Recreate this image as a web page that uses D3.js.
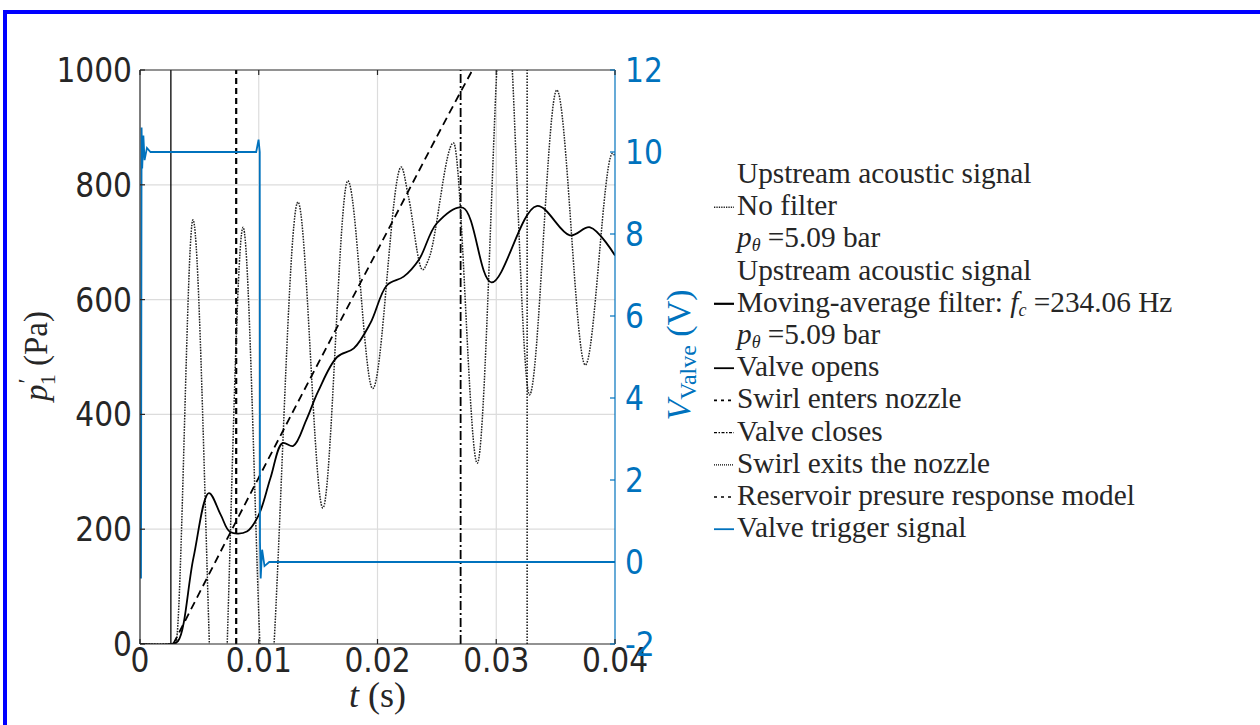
<!DOCTYPE html>
<html>
<head>
<meta charset="utf-8">
<script src="https://cdn.jsdelivr.net/npm/d3@7"></script>
<style>
	html, body { margin: 0; padding: 0; background: #fff; }
	svg { display: block; }
	.tick-sans { font-family: "DejaVu Sans Condensed", "Liberation Sans", sans-serif; }
	.serif { font-family: "Liberation Serif", "DejaVu Serif", serif; }
</style>
</head>
<body>
<svg id="chart" width="1260" height="725"></svg>
<script>
// Raw signal (no filter), read at peaks and troughs
const noFilterT = [0, 0.0030, 0.00446, 0.0066, 0.00868, 0.0106, 0.0133, 0.0154, 0.0175, 0.0196, 0.0220, 0.0226, 0.0238, 0.0243, 0.0264, 0.0284, 0.0307, 0.0328, 0.0351, 0.0375, 0.0398, 0.0400];
const noFilterP = [0, 0, 739, -300, 726, -150, 770, 237, 807, 445, 831, 780, 652, 670, 873, 315, 1170, 434, 965, 486, 855, 850];

// Moving-average filtered signal
const movAvgT = [0, 0.0026, 0.0032, 0.0045, 0.0058, 0.0068, 0.0076, 0.0090, 0.0100, 0.0110, 0.0120, 0.0129, 0.0140, 0.0150, 0.0166, 0.0180, 0.0194, 0.0208, 0.0222, 0.0235, 0.0250, 0.0272, 0.0296, 0.0334, 0.0362, 0.0379, 0.0400];
const movAvgP = [0, 0, 5, 150, 263, 225, 195, 196, 225, 290, 350, 345, 390, 440, 500, 515, 559, 625, 640, 670, 733, 760, 630, 763, 712, 726, 677];

// Reservoir pressure response model
const modelT = [0.0028, 0.0100, 0.0200, 0.0280, 0.0300];
const modelP = [0, 290, 686, 1000, 1075];

// Valve trigger signal (V)
const valveT = [0, 0.00005, 0.0001, 0.0002, 0.0003, 0.0005, 0.0008, 0.0097, 0.0099, 0.0100, 0.01002, 0.01008, 0.0102, 0.0104, 0.0108, 0.0400];
const valveV = [-0.4, 10.6, 9.6, 10.4, 9.8, 10.1, 10.0, 10.0, 10.3, 10.0, 0.5, -0.4, 0.3, -0.1, 0, 0];

// Event times (s)
const eventNames = ["Valve opens", "Swirl enters nozzle", "Valve closes", "Swirl exits the nozzle"];
const eventT = [0.0026, 0.0081, 0.0270, 0.0326];
const eventDash = [null, "6,4", "9,3,2,3", "1.5,1.5"];
const eventWidth = [1.3, 2.2, 1.8, 1.4];

const xTicks = [0, 0.01, 0.02, 0.03, 0.04];
const xTickLabels = ["0", "0.01", "0.02", "0.03", "0.04"];
const yTicks = [0, 200, 400, 600, 800, 1000];
const yRTicks = [-2, 0, 2, 4, 6, 8, 10, 12];

const blue = "#0072BD";
const dark = "#262626";

const svg = d3.select("#chart");

// outer blue frame
svg.append("rect")
	.attr("x", 5).attr("y", 12)
	.attr("width", 1260).attr("height", 730)
	.attr("fill", "none")
	.attr("stroke", "#0000ff")
	.attr("stroke-width", 4);

const pL = 140, pR = 615, pT = 70, pB = 644;

const x = d3.scaleLinear().domain([0, 0.04]).range([pL, pR]);
const yL = d3.scaleLinear().domain([0, 1000]).range([pB, pT]);
const yR = d3.scaleLinear().domain([-2, 12]).range([pB, pT]);

svg.append("clipPath").attr("id", "plot-clip")
	.append("rect")
	.attr("x", pL).attr("y", pT)
	.attr("width", pR - pL).attr("height", pB - pT);

// grid
const grid = svg.append("g").attr("stroke", "#dcdcdc").attr("stroke-width", 1.2);
xTicks.slice(1, -1).forEach(t => {
	grid.append("line").attr("x1", x(t)).attr("x2", x(t)).attr("y1", pT).attr("y2", pB);
});
yTicks.slice(1, -1).forEach(v => {
	grid.append("line").attr("x1", pL).attr("x2", pR).attr("y1", yL(v)).attr("y2", yL(v));
});

const plot = svg.append("g").attr("clip-path", "url(#plot-clip)");

// event lines
eventT.forEach((t, i) => {
	plot.append("line")
		.attr("x1", x(t)).attr("x2", x(t))
		.attr("y1", yL(0)).attr("y2", yL(1000))
		.attr("stroke", "#000")
		.attr("stroke-width", eventWidth[i])
		.attr("stroke-dasharray", eventDash[i]);
});

plot.append("path")
	.datum(d3.zip(noFilterT, noFilterP))
	.attr("d", d3.line().x(d => x(d[0])).y(d => yL(d[1])).curve(d3.curveMonotoneX))
	.attr("fill", "none")
	.attr("stroke", "#222")
	.attr("stroke-width", 1.5)
	.attr("stroke-dasharray", "1.6,1.2");

plot.append("path")
	.datum(d3.zip(modelT, modelP))
	.attr("d", d3.line().x(d => x(d[0])).y(d => yL(d[1])).curve(d3.curveMonotoneX))
	.attr("fill", "none")
	.attr("stroke", "#000")
	.attr("stroke-width", 1.8)
	.attr("stroke-dasharray", "8,5");

plot.append("path")
	.datum(d3.zip(movAvgT, movAvgP))
	.attr("d", d3.line().x(d => x(d[0])).y(d => yL(d[1])).curve(d3.curveCatmullRom))
	.attr("fill", "none")
	.attr("stroke", "#000")
	.attr("stroke-width", 1.8);

plot.append("path")
	.datum(d3.zip(valveT, valveV))
	.attr("d", d3.line().x(d => x(d[0]) + 1).y(d => yR(d[1])))
	.attr("fill", "none")
	.attr("stroke", blue)
	.attr("stroke-width", 1.8);

// axes box
const box = svg.append("g").attr("stroke-width", 1.2);
box.append("line").attr("x1", pL).attr("x2", pR).attr("y1", pB).attr("y2", pB).attr("stroke", dark);
box.append("line").attr("x1", pL).attr("x2", pR).attr("y1", pT).attr("y2", pT).attr("stroke", dark);
box.append("line").attr("x1", pL).attr("x2", pL).attr("y1", pT).attr("y2", pB).attr("stroke", dark);
box.append("line").attr("x1", pR).attr("x2", pR).attr("y1", pT).attr("y2", pB).attr("stroke", blue);

const tickLen = 5;
xTicks.forEach(t => {
	box.append("line").attr("x1", x(t)).attr("x2", x(t)).attr("y1", pB).attr("y2", pB - tickLen).attr("stroke", dark);
	box.append("line").attr("x1", x(t)).attr("x2", x(t)).attr("y1", pT).attr("y2", pT + tickLen).attr("stroke", dark);
});
yTicks.forEach(v => {
	box.append("line").attr("x1", pL).attr("x2", pL + tickLen).attr("y1", yL(v)).attr("y2", yL(v)).attr("stroke", dark);
});
yRTicks.forEach(v => {
	box.append("line").attr("x1", pR).attr("x2", pR - tickLen).attr("y1", yR(v)).attr("y2", yR(v)).attr("stroke", blue);
});

// tick labels
const fs = 33;
xTicks.forEach((t, i) => {
	svg.append("text").attr("class", "tick-sans")
		.attr("x", x(t)).attr("y", 672)
		.attr("text-anchor", "middle")
		.attr("font-size", fs).attr("fill", dark)
		.text(xTickLabels[i]);
});
yTicks.forEach(v => {
	svg.append("text").attr("class", "tick-sans")
		.attr("x", 132).attr("y", yL(v) + 12)
		.attr("text-anchor", "end")
		.attr("font-size", fs).attr("fill", dark)
		.text(v);
});
yRTicks.forEach(v => {
	svg.append("text").attr("class", "tick-sans")
		.attr("x", 625).attr("y", yR(v) + 12)
		.attr("text-anchor", "start")
		.attr("font-size", fs).attr("fill", blue)
		.text(v);
});

// axis titles
const xt = svg.append("text").attr("class", "serif")
	.attr("x", (pL + pR) / 2).attr("y", 707)
	.attr("text-anchor", "middle").attr("font-size", 36).attr("fill", dark);
xt.append("tspan").attr("font-style", "italic").text("t");
xt.append("tspan").text(" (s)");

const ylt = svg.append("text").attr("class", "serif")
	.attr("transform", "translate(47,356) rotate(-90)")
	.attr("text-anchor", "middle").attr("font-size", 33).attr("fill", dark);
ylt.append("tspan").attr("font-style", "italic").text("p");
ylt.append("tspan").attr("font-size", 24).attr("dx", 1).attr("dy", -13).text("′");
ylt.append("tspan").attr("font-size", 22).attr("dx", -7).attr("dy", 21).text("1");
ylt.append("tspan").attr("dy", -8).text(" (Pa)");

const yrt = svg.append("text").attr("class", "serif")
	.attr("transform", "translate(690,355) rotate(-90)")
	.attr("text-anchor", "middle").attr("font-size", 34).attr("fill", blue);
yrt.append("tspan").attr("font-style", "italic").text("V");
yrt.append("tspan").attr("font-size", 24).attr("dy", 6).text("Valve");
yrt.append("tspan").attr("dy", -6).text(" (V)");

// legend
const legendRows = [
	{ parts: [["Upstream acoustic signal"]], sample: null },
	{ parts: [["No filter"]], sample: { color: "#222", dash: "1.3,1.1", w: 1.4 } },
	{ parts: [["p", "i"], ["θ", "sub"], [" =5.09 bar"]], sample: null },
	{ parts: [["Upstream acoustic signal"]], sample: null },
	{ parts: [["Moving-average filter: "], ["f", "i"], ["c", "sub"], [" =234.06 Hz"]], sample: { color: "#000", dash: null, w: 2.2 } },
	{ parts: [["p", "i"], ["θ", "sub"], [" =5.09 bar"]], sample: null },
	{ parts: [["Valve opens"]], sample: { color: "#000", dash: null, w: 1.8 } },
	{ parts: [["Swirl enters nozzle"]], sample: { color: "#000", dash: "3,4", w: 1.6 } },
	{ parts: [["Valve closes"]], sample: { color: "#000", dash: "3,1.5,1.5,1.5", w: 1.4 } },
	{ parts: [["Swirl exits the nozzle"]], sample: { color: "#000", dash: "1,1", w: 1.2 } },
	{ parts: [["Reservoir presure response model"]], sample: { color: "#000", dash: "3,4", w: 1.6 } },
	{ parts: [["Valve trigger signal"]], sample: { color: blue, dash: null, w: 1.8 } }
];

const legend = svg.append("g").attr("class", "serif");
legendRows.forEach((row, i) => {
	const yb = 183 + i * 32.2;
	if (row.sample) {
		legend.append("line")
			.attr("x1", 714).attr("x2", 734)
			.attr("y1", yb - 8).attr("y2", yb - 8)
			.attr("stroke", row.sample.color)
			.attr("stroke-width", row.sample.w)
			.attr("stroke-dasharray", row.sample.dash);
	}
	const t = legend.append("text")
		.attr("x", 737).attr("y", yb)
		.attr("font-size", 29.3).attr("fill", dark);
	let sub = false;
	row.parts.forEach(p => {
		const ts = t.append("tspan").text(p[0]);
		if (p[1] === "i") ts.attr("font-style", "italic");
		if (p[1] === "sub") {
			ts.attr("font-size", 18).attr("dy", 4).attr("font-style", "italic");
			sub = true;
		} else if (sub) {
			ts.attr("dy", -4);
			sub = false;
		}
	});
});
</script>
</body>
</html>
